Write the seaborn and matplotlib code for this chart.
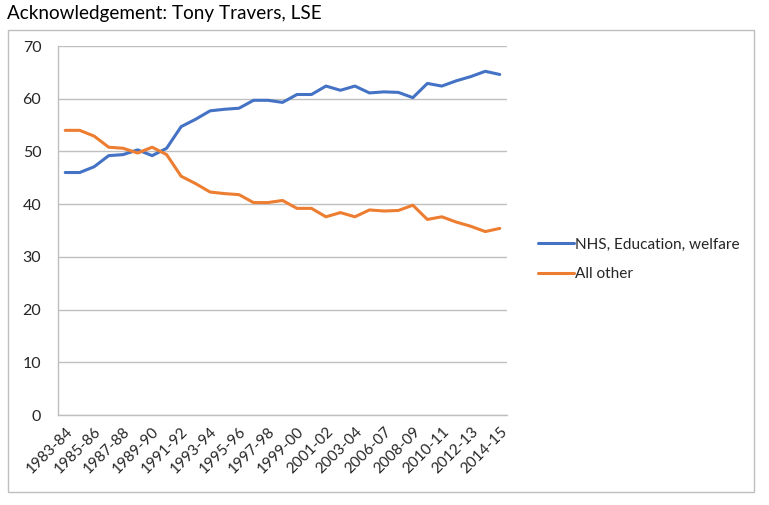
import numpy as np
import pandas as pd
import matplotlib
matplotlib.use("Agg")
import matplotlib.pyplot as plt
import seaborn as sns
from matplotlib.patches import Rectangle

years = ["1983-84", "1984-85", "1985-86", "1986-87", "1987-88", "1988-89",
         "1989-90", "1990-91", "1991-92", "1992-93", "1993-94", "1994-95",
         "1995-96", "1996-97", "1997-98", "1998-99", "1999-00", "2000-01",
         "2001-02", "2002-03", "2003-04", "2004-05", "2006-07", "2007-08",
         "2008-09", "2009-10", "2010-11", "2011-12", "2012-13", "2013-14",
         "2014-15"]
nhs = [46.0, 46.0, 47.1, 49.2, 49.4, 50.3, 49.2, 50.6, 54.7, 56.1, 57.7,
       58.0, 58.2, 59.7, 59.7, 59.3, 60.8, 60.8, 62.4, 61.6, 62.4, 61.1,
       61.3, 61.2, 60.2, 62.9, 62.4, 63.4, 64.2, 65.2, 64.6]
other = [54.0, 54.0, 52.9, 50.8, 50.6, 49.7, 50.8, 49.4, 45.3, 43.9, 42.3,
         42.0, 41.8, 40.3, 40.3, 40.7, 39.2, 39.2, 37.6, 38.4, 37.6, 38.9,
         38.7, 38.8, 39.8, 37.1, 37.6, 36.6, 35.8, 34.8, 35.4]
series_names = ["NHS, Education, welfare", "All other"]
colors = ["#4472C4", "#ED7D31"]

df = pd.DataFrame({
    "year": years * 2,
    "pos": list(range(len(years))) * 2,
    "value": nhs + other,
    "series": [series_names[0]] * len(years) + [series_names[1]] * len(years),
})

sns.set_style("white")
plt.rcParams["font.family"] = ["Lato", "DejaVu Sans"]

fig = plt.figure(figsize=(7.69, 5.05), dpi=100)
ax = fig.add_axes([0.0754, 0.1782, 0.5839, 0.7307])

sns.lineplot(data=df, x="pos", y="value", hue="series", palette=colors,
             linewidth=2.2, ax=ax)

ax.set_xlim(-0.5, len(years) - 0.5)
ax.set_ylim(0, 70)
ax.set_yticks(range(0, 71, 10))
ax.set_xticks(range(0, len(years), 2))
ax.set_xticklabels(years[::2], rotation=45, ha="right", rotation_mode="anchor",
                   fontsize=11, color="#262626")
ax.set_xticks(np.arange(-0.5, len(years), 1), minor=True)
ax.tick_params(axis="x", which="major", length=0, pad=7)
ax.tick_params(axis="x", which="minor", length=4, color="#BFBFBF", width=1)
ax.tick_params(axis="y", length=0, pad=12, labelsize=11.5, labelcolor="#262626")
ax.set_xlabel("")
ax.set_ylabel("")
ax.grid(axis="y", color="#BFBFBF", linewidth=1)
ax.set_axisbelow(True)
for s in ["top", "right"]:
    ax.spines[s].set_visible(False)
for s in ["left", "bottom"]:
    ax.spines[s].set_color("#BFBFBF")
    ax.spines[s].set_linewidth(1)

ax.legend(loc="center left", bbox_to_anchor=(0.692, 0.486),
          bbox_transform=fig.transFigure, frameon=False, fontsize=11.1,
          handlelength=2.3, handletextpad=0.05, labelspacing=1.0,
          borderaxespad=0)

fig.patches.append(Rectangle((8 / 769, 1 - 492 / 505), 746 / 769, 462 / 505,
                             transform=fig.transFigure, fill=False,
                             edgecolor="#BFBFBF", linewidth=1))
fig.text(7 / 769, 1 - 14 / 505, "Acknowledgement: Tony Travers, LSE",
         fontsize=13.6, va="center", ha="left", color="black")

fig.savefig("out.png", dpi=100)
